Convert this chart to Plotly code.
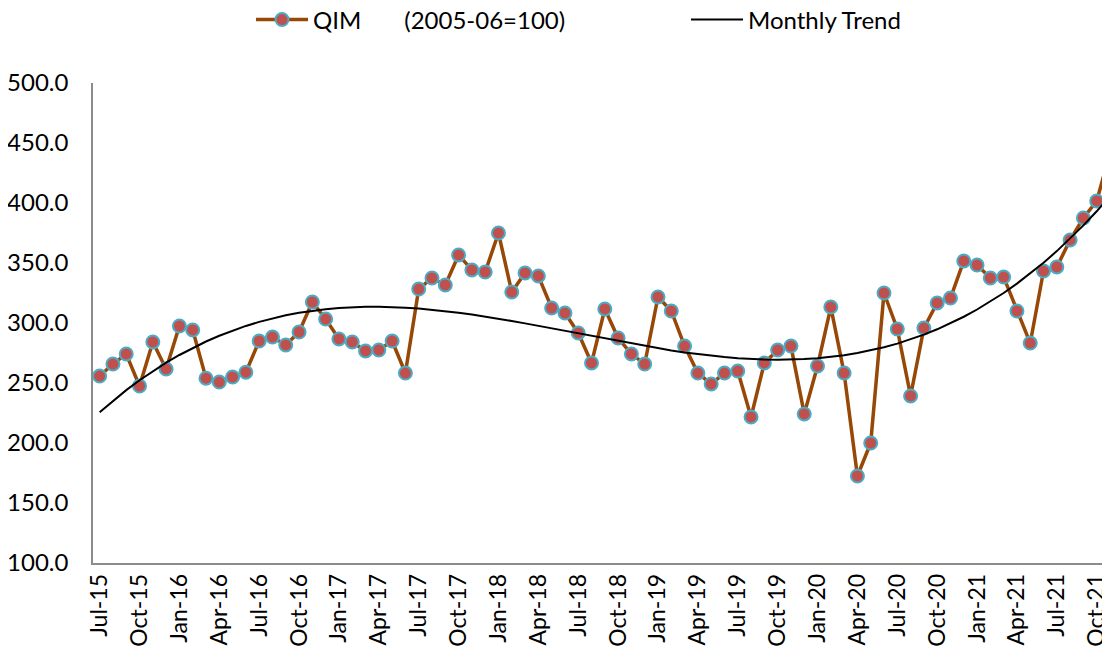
import numpy as np
import pandas as pd
import plotly.graph_objects as go

months = pd.date_range("2015-07-01", "2021-11-01", freq="MS").strftime("%b-%y").tolist()

qim = [
    255.8, 265.8, 274.2, 247.5, 284.2, 261.7,
    297.5, 294.2, 254.0, 250.8, 255.0, 259.0, 285.0, 288.3, 281.7, 292.5, 317.5, 303.3,
    286.7, 284.2, 276.7, 277.5, 285.0, 258.3, 328.3, 337.5, 331.7, 356.7, 344.2, 342.5,
    375.0, 325.8, 341.7, 339.2, 312.5, 308.3, 291.7, 266.7, 311.7, 287.5, 274.2, 265.8,
    321.7, 310.0, 280.8, 258.3, 249.2, 258.3, 260.0, 221.7, 266.7, 277.5, 280.8, 224.2,
    264.2, 313.3, 258.3, 172.5, 200.0, 325.0, 295.0, 239.2, 295.8, 316.7, 320.8, 351.7,
    348.3, 337.5, 338.3, 310.0, 283.3, 343.3, 346.7, 369.2, 387.5, 401.7, 441.7,
]

tick_labels = ["Jul-15", "Oct-15", "Jan-16", "Apr-16", "Jul-16", "Oct-16", "Jan-17",
               "Apr-17", "Jul-17", "Oct-17", "Jan-18", "Apr-18", "Jul-18", "Oct-18",
               "Jan-19", "Apr-19", "Jul-19", "Oct-19", "Jan-20", "Apr-20", "Jul-20",
               "Oct-20", "Jan-21", "Apr-21", "Jul-21", "Oct-21"]

y_ticks = [100, 150, 200, 250, 300, 350, 400, 450, 500]

# Polynomial (order 3) trendline fitted to the QIM series, as in the source chart
idx = np.arange(len(qim))
coef = np.polyfit(idx, qim, 3)
trend = np.polyval(coef, idx)

FONT = "Lato"

fig = go.Figure()
fig.add_trace(go.Scatter(
    x=months, y=qim, mode="lines+markers",
    name="QIM" + "\u00a0" * 7 + "(2005-06=100)",
    line=dict(color="#974706", width=3.5),
    marker=dict(size=13, color="#C0504D", line=dict(color="#4BACC6", width=2)),
    legend="legend",
))
fig.add_trace(go.Scatter(
    x=months, y=trend, mode="lines", name="Monthly Trend",
    line=dict(color="#000000", width=2),
    legend="legend2",
))

leg_common = dict(orientation="h", xref="container", xanchor="left",
                  yref="container", y=0.9815, yanchor="middle",
                  font=dict(size=24, family=FONT), itemwidth=52,
                  bgcolor="rgba(0,0,0,0)")

fig.update_layout(
    width=1102, height=647,
    margin=dict(l=85, r=0, t=75, b=92),
    plot_bgcolor="white", paper_bgcolor="white",
    font=dict(family=FONT, size=24, color="#000000"),
    showlegend=True,
    legend=dict(x=243 / 1102, **leg_common),
    legend2=dict(x=678 / 1102, **leg_common),
    xaxis=dict(
        type="category", categoryorder="array", categoryarray=months,
        range=[-0.5, 76.0],
        tickmode="array", tickvals=tick_labels, ticktext=tick_labels,
        tickangle=-90, showgrid=False, showline=True, linecolor="#8C8C8C",
        linewidth=1.5, ticks="", tickfont=dict(size=23, family=FONT),
    ),
    yaxis=dict(
        range=[100, 500], tickmode="array", tickvals=y_ticks,
        ticktext=[f"{v:.1f}" for v in y_ticks],
        showgrid=False, showline=True, linecolor="#8C8C8C", linewidth=1.5,
        ticks="", zeroline=False, tickfont=dict(size=24, family=FONT),
        ticklabelstandoff=18,
    ),
)

fig.write_html("out.html")
